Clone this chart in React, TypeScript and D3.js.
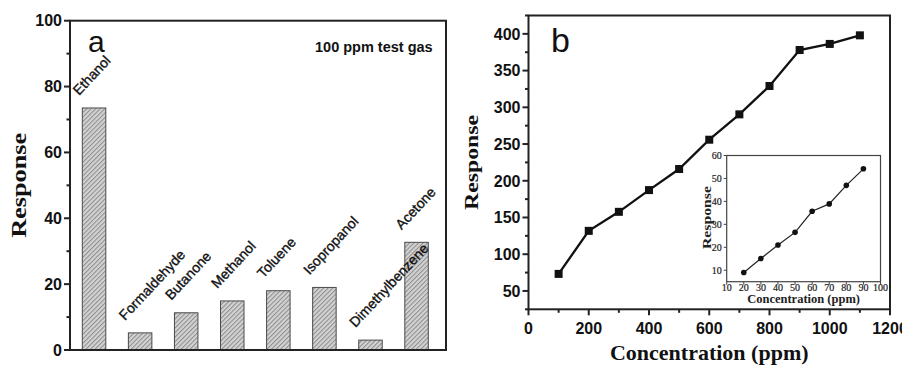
import React from "react";
import * as d3 from "d3";

const gases = ["Ethanol", "Formaldehyde", "Butanone", "Methanol", "Toluene", "Isopropanol", "Dimethylbenzene", "Acetone"];
const gasResponses = [73.5, 5.2, 11.3, 14.9, 18.0, 19.0, 3.0, 32.7];
const yTicksA = [0, 20, 40, 60, 80, 100];
const yMinorA = [10, 30, 50, 70, 90];

const concentrations = [100, 200, 300, 400, 500, 600, 700, 800, 900, 1000, 1100];
const concResponses = [73.2, 131.8, 157.7, 187.3, 216.0, 255.9, 290.4, 329.0, 378.0, 386.3, 398.0];
const xTicksB = [0, 200, 400, 600, 800, 1000, 1200];
const xMinorB = [100, 300, 500, 700, 900, 1100];
const yTicksB = [50, 100, 150, 200, 250, 300, 350, 400];
const yMinorB = [25, 75, 125, 175, 225, 275, 325, 375, 425];

const insetConc = [20, 30, 40, 50, 60, 70, 80, 90];
const insetResp = [9.0, 15.1, 21.0, 26.5, 35.7, 38.9, 47.0, 54.2];
const insetXTicks = [10, 20, 30, 40, 50, 60, 70, 80, 90, 100];
const insetYTicks = [10, 20, 30, 40, 50, 60];

const SANS = "'Liberation Sans', Arial, sans-serif";
const SERIF = "'Liberation Serif', 'Times New Roman', serif";

export default function App() {
  // Panel a
  const aL = 70, aR = 446, aT = 20.7, aB = 350;
  const xA = d3.scaleBand<string>().domain(gases).range([aL, aR]).paddingInner(0.49).paddingOuter(0.3256).align(0.41);
  const yA = d3.scaleLinear().domain([0, 100]).range([aB, aT]);

  // Panel b
  const bL = 528.5, bR = 890, bT = 15.5, bB = 309.3;
  const xB = d3.scaleLinear().domain([0, 1200]).range([bL, bR]);
  const yB = d3.scaleLinear().domain([25, 425]).range([bB, bT]);
  const lineB = d3.line<number>().x((_, i) => xB(concentrations[i])).y((d) => yB(d));

  // Inset
  const iL = 726.7, iR = 880.5, iT = 155.5, iB = 281.7;
  const xI = d3.scaleLinear().domain([10, 100]).range([iL, iR]);
  const yI = d3.scaleLinear().domain([5, 60]).range([iB, iT]);
  const lineI = d3.line<number>().x((_, i) => xI(insetConc[i])).y((d) => yI(d));

  const sq = 8;

  return (
    <svg width={902} height={365} style={{ position: "absolute", left: 0, top: 0, background: "#fff" }}>
      <defs>
        <pattern id="hatch" width={3.2} height={3.2} patternUnits="userSpaceOnUse" patternTransform="rotate(45)">
          <rect width={3.2} height={3.2} fill="#d2d2d2" />
          <line x1={0.5} y1={0} x2={0.5} y2={3.2} stroke="#8c8c8c" strokeWidth={1} />
        </pattern>
      </defs>

      {/* ---------- Panel a ---------- */}
      {gases.map((g, i) => (
        <rect key={g} x={xA(g)} y={yA(gasResponses[i])} width={xA.bandwidth()} height={aB - yA(gasResponses[i])}
          fill="url(#hatch)" stroke="#4a4a4a" strokeWidth={1} />
      ))}
      {gases.map((g, i) => (
        <text key={"l" + g} transform={`translate(${(xA(g) as number) + xA.bandwidth() / 2 - 15},${yA(gasResponses[i]) - 12}) rotate(-47)`}
          fontFamily={SANS} fontSize={14} fill="#111" stroke="#111" strokeWidth={0.35}>{g}</text>
      ))}
      <rect x={aL} y={aT} width={aR - aL} height={aB - aT} fill="none" stroke="#222" strokeWidth={2} />
      {yTicksA.map((t) => (
        <g key={"ya" + t}>
          <line x1={aL - 6} x2={aL} y1={yA(t)} y2={yA(t)} stroke="#222" strokeWidth={2} />
          <text x={aL - 8} y={yA(t)} dy="0.36em" textAnchor="end" fontFamily={SANS} fontWeight="bold" fontSize={16} fill="#111">{t}</text>
        </g>
      ))}
      {yMinorA.map((t) => (
        <line key={"yma" + t} x1={aL - 3.5} x2={aL} y1={yA(t)} y2={yA(t)} stroke="#222" strokeWidth={2} />
      ))}
      <text transform={`translate(26,${(aT + aB) / 2}) rotate(-90)`} textAnchor="middle" fontFamily={SERIF} fontWeight="bold"
        fontSize={21} textLength={105} lengthAdjust="spacingAndGlyphs" fill="#111">Response</text>
      <text x={88} y={52} fontFamily={SANS} fontSize={30} fill="#111">a</text>
      <text x={315} y={52} fontFamily={SANS} fontWeight="bold" fontSize={14.5} fill="#111">100 ppm test gas</text>

      {/* ---------- Panel b ---------- */}
      <rect x={bL} y={bT} width={bR - bL} height={bB - bT} fill="none" stroke="#222" strokeWidth={2} />
      {yTicksB.map((t) => (
        <g key={"yb" + t}>
          <line x1={bL - 6} x2={bL} y1={yB(t)} y2={yB(t)} stroke="#222" strokeWidth={2} />
          <text x={bL - 8} y={yB(t)} dy="0.36em" textAnchor="end" fontFamily={SANS} fontWeight="bold" fontSize={16} fill="#111">{t}</text>
        </g>
      ))}
      {yMinorB.map((t) => (
        <line key={"ymb" + t} x1={bL - 3.5} x2={bL} y1={yB(t)} y2={yB(t)} stroke="#222" strokeWidth={2} />
      ))}
      {xTicksB.map((t) => (
        <g key={"xb" + t}>
          <line x1={xB(t)} x2={xB(t)} y1={bB} y2={bB + 6} stroke="#222" strokeWidth={2} />
          <text x={xB(t)} y={333.5} textAnchor="middle" fontFamily={SANS} fontWeight="bold" fontSize={16} fill="#111">{t}</text>
        </g>
      ))}
      {xMinorB.map((t) => (
        <line key={"xmb" + t} x1={xB(t)} x2={xB(t)} y1={bB} y2={bB + 3.5} stroke="#222" strokeWidth={2} />
      ))}
      <text transform={`translate(477.5,${(bT + bB) / 2}) rotate(-90)`} textAnchor="middle" fontFamily={SERIF} fontWeight="bold"
        fontSize={19} textLength={95} lengthAdjust="spacingAndGlyphs" fill="#111">Response</text>
      <text x={(bL + bR) / 2} y={360} textAnchor="middle" fontFamily={SERIF} fontWeight="bold" fontSize={22} fill="#111">Concentration (ppm)</text>
      <text x={551} y={51.5} fontFamily={SANS} fontSize={34} fill="#111">b</text>
      <path d={lineB(concResponses) ?? ""} fill="none" stroke="#111" strokeWidth={2.3} />
      {concResponses.map((v, i) => (
        <rect key={"m" + i} x={xB(concentrations[i]) - sq / 2} y={yB(v) - sq / 2} width={sq} height={sq} fill="#111" />
      ))}

      {/* ---------- Inset ---------- */}
      <rect x={iL} y={iT} width={iR - iL} height={iB - iT} fill="#fff" stroke="#444" strokeWidth={1.2} />
      {insetYTicks.map((t) => (
        <g key={"yi" + t}>
          <line x1={iL - 3} x2={iL} y1={yI(t)} y2={yI(t)} stroke="#444" strokeWidth={1} />
          <text x={iL - 5} y={yI(t)} dy="0.35em" textAnchor="end" fontFamily={SERIF} fontSize={10} fill="#222" stroke="#222" strokeWidth={0.2}>{t}</text>
        </g>
      ))}
      {insetXTicks.map((t) => (
        <g key={"xi" + t}>
          <line x1={xI(t)} x2={xI(t)} y1={iB} y2={iB + 3} stroke="#444" strokeWidth={1} />
          <text x={xI(t)} y={291} textAnchor="middle" fontFamily={SERIF} fontSize={10} fill="#222" stroke="#222" strokeWidth={0.2}>{t}</text>
        </g>
      ))}
      <text transform={`translate(710.5,${(iT + iB) / 2 - 1}) rotate(-90)`} textAnchor="middle" fontFamily={SERIF} fontWeight="bold"
        fontSize={12.5} textLength={63} lengthAdjust="spacingAndGlyphs" fill="#222">Response</text>
      <text x={(iL + iR) / 2} y={303} textAnchor="middle" fontFamily={SERIF} fontWeight="bold" fontSize={12.5} fill="#222">Concentration (ppm)</text>
      <path d={lineI(insetResp) ?? ""} fill="none" stroke="#222" strokeWidth={1.2} />
      {insetResp.map((v, i) => (
        <circle key={"c" + i} cx={xI(insetConc[i])} cy={yI(v)} r={2.8} fill="#111" />
      ))}
    </svg>
  );
}
